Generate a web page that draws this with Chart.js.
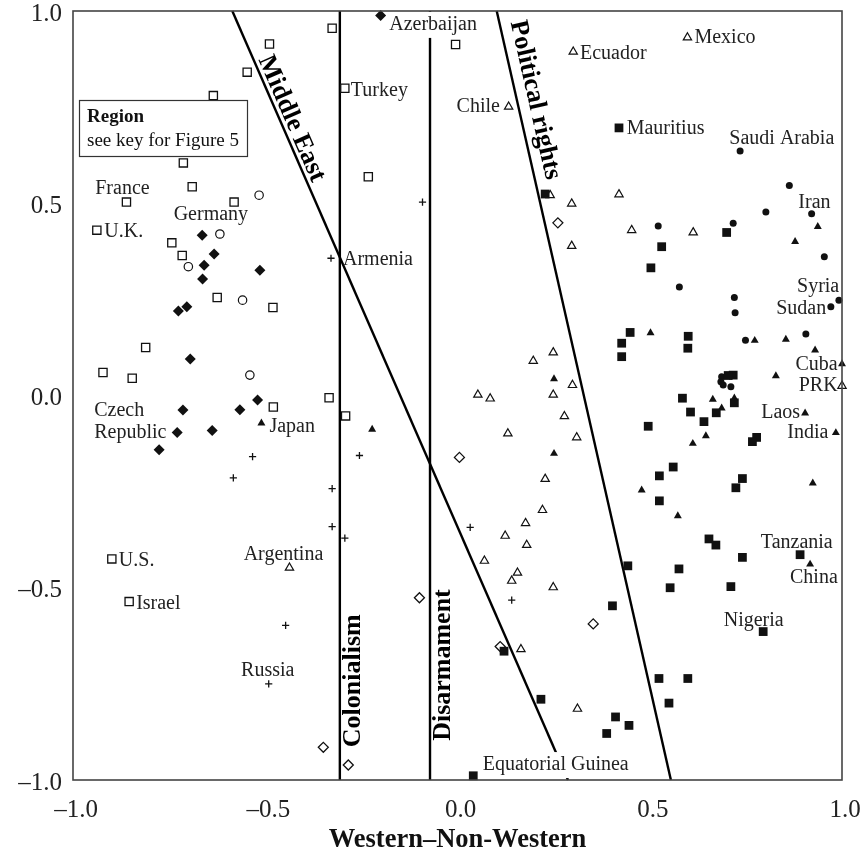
<!DOCTYPE html>
<html><head><meta charset="utf-8">
<script src="https://cdn.jsdelivr.net/npm/chart.js@4.4.1/dist/chart.umd.min.js"></script>
<style>html,body{margin:0;padding:0;background:#fff}#wrap{width:864px;height:864px;position:relative}</style>
</head><body><div id="wrap"><canvas id="c"></canvas></div>
<script>
// ---------- axes ----------
const xTickValues = [-1, -0.5, 0, 0.5, 1];
const xTickLabels = ['–1.0', '–0.5', '0.0', '0.5', '1.0'];
const yTickValues = [-1, -0.5, 0, 0.5, 1];
const yTickLabels = ['–1.0', '–0.5', '0.0', '0.5', '1.0'];
const xAxisTitle = 'Western–Non-Western';

// ---------- points by marker type ----------
const openSquares = [[-0.326,0.955],[-0.489,0.914],[-0.547,0.841],[-0.635,0.780],[-0.713,0.605],[-0.690,0.543],
 [-0.861,0.503],[-0.581,0.503],[-0.938,0.430],[-0.743,0.397],[-0.716,0.364],[-0.625,0.255],[-0.480,0.229],
 [-0.811,0.125],[-0.922,0.060],[-0.846,0.045],[-0.334,-0.006],[-0.479,-0.030],[-0.899,-0.425],[-0.854,-0.536],
 [-0.005,0.913],[-0.293,0.799],[-0.232,0.569],[-0.291,-0.053]];
const openCircles = [[-0.516,0.521],[-0.618,0.420],[-0.700,0.335],[-0.559,0.248],[-0.540,0.053]];
const filledDiamonds = [[-0.200,0.988],[-0.664,0.417],[-0.633,0.368],[-0.659,0.339],[-0.514,0.326],[-0.663,0.303],
 [-0.704,0.231],[-0.726,0.220],[-0.695,0.095],[-0.520,-0.012],[-0.714,-0.038],[-0.566,-0.037],[-0.729,-0.096],
 [-0.638,-0.091],[-0.776,-0.141]];
const openDiamonds = [[-0.349,-0.915],[-0.284,-0.961],[0.005,-0.161],[-0.099,-0.526],[0.353,-0.594],[0.111,-0.653],[0.261,0.449]];
const crosses = [[-0.329,0.357],[-0.091,0.503],[-0.533,-0.159],[-0.583,-0.214],[-0.326,-0.242],[-0.326,-0.341],
 [-0.255,-0.156],[-0.293,-0.371],[0.033,-0.343],[0.141,-0.532],[-0.447,-0.598],[-0.491,-0.750]];
const openTriangles = [[0.301,0.894],[0.133,0.751],[0.598,0.931],[0.241,0.521],[0.297,0.499],[0.297,0.389],
 [0.420,0.523],[0.453,0.430],[0.613,0.424],[1.0,0.025],[0.249,0.112],[0.197,0.090],[0.299,0.027],[0.249,0.002],
 [0.053,0.002],[0.085,-0.008],[0.278,-0.054],[0.131,-0.099],[0.310,-0.109],[0.228,-0.217],[0.221,-0.298],
 [0.177,-0.332],[0.124,-0.365],[0.180,-0.389],[0.070,-0.430],[0.156,-0.461],[0.141,-0.482],[0.249,-0.499],
 [0.165,-0.660],[0.312,-0.815],[-0.437,-0.448]];
const filledTriangles = [[-0.510,-0.072],[-0.222,-0.088],[0.251,0.043],[0.251,-0.151],[0.937,0.439],[0.878,0.400],
 [0.502,0.163],[0.773,0.143],[0.854,0.146],[0.930,0.118],[1.0,0.082],[0.828,0.051],[0.664,-0.010],[0.720,-0.007],
 [0.687,-0.033],[0.904,-0.046],[0.984,-0.097],[0.646,-0.105],[0.612,-0.125],[0.924,-0.228],[0.479,-0.246],
 [0.573,-0.313],[0.917,-0.439]];
const filledCircles = [[0.735,0.636],[0.863,0.546],[0.921,0.473],[0.802,0.477],[0.522,0.441],[0.717,0.448],
 [0.954,0.361],[0.577,0.282],[0.720,0.255],[0.722,0.215],[0.992,0.248],[0.971,0.231],[0.749,0.144],[0.906,0.160],
 [0.687,0.049],[0.685,0.036],[0.691,0.027],[0.711,0.023]];
const filledSquares = [[0.420,0.696],[0.228,0.524],[0.700,0.424],[0.531,0.387],[0.503,0.332],[0.449,0.164],
 [0.600,0.154],[0.427,0.136],[0.427,0.101],[0.599,0.123],[0.717,0.053],[0.704,0.052],[0.585,-0.007],[0.720,-0.019],
 [0.673,-0.045],[0.606,-0.043],[0.641,-0.068],[0.496,-0.080],[0.778,-0.109],[0.767,-0.120],[0.561,-0.186],
 [0.525,-0.209],[0.741,-0.216],[0.724,-0.240],[0.525,-0.274],[0.654,-0.373],[0.672,-0.389],[0.741,-0.421],
 [0.891,-0.414],[0.443,-0.443],[0.576,-0.451],[0.553,-0.500],[0.711,-0.497],[0.403,-0.547],[0.795,-0.614],
 [0.524,-0.736],[0.599,-0.736],[0.550,-0.800],[0.411,-0.836],[0.446,-0.858],[0.388,-0.879],[0.121,-0.665],
 [0.217,-0.790],[0.041,-0.989]];

// ---------- country labels ----------
const countryNames = ['France','Germany','U.K.','Czech\nRepublic','Japan','U.S.','Israel','Argentina','Russia',
 'Azerbaijan','Turkey','Armenia','Chile','Ecuador','Mexico','Mauritius','Saudi Arabia','Iran','Syria','Sudan',
 'Cuba','PRK','Laos','India','Tanzania','China','Nigeria','Equatorial Guinea'];
const countryPoints = [[-0.861,0.503],[-0.618,0.420],[-0.938,0.430],[-0.729,-0.096],[-0.510,-0.072],[-0.899,-0.425],
 [-0.854,-0.536],[-0.437,-0.448],[-0.491,-0.750],[-0.200,0.988],[-0.293,0.799],[-0.329,0.357],[0.133,0.751],
 [0.301,0.894],[0.598,0.931],[0.420,0.696],[0.735,0.636],[0.921,0.473],[0.992,0.248],[0.971,0.231],[1.0,0.082],
 [1.0,0.025],[0.904,-0.046],[0.984,-0.097],[0.891,-0.414],[0.917,-0.439],[0.795,-0.614],[0.041,-0.989]];

// ---------- dividing lines ----------
const dividerNames = ['Colonialism','Disarmament','Middle East','Political rights'];
const dividerStart = [[-0.306,1],[-0.0715,1],[-0.5857,1],[0.102,1]];
const dividerEnd = [[-0.306,-1],[-0.0715,-1],[0.2874,-1],[0.555,-1]];

// ---------- styling / placement (not data) ----------
const labelPlacement = {
 'France':{dx:-4,dy:-13,align:'center'}, 'Germany':{dx:-9,dy:-19,align:'center'},
 'U.K.':{dx:7.5,dy:1.5,align:'left'}, 'Czech\nRepublic':{dx:-83,dy:-22,align:'left'},
 'Japan':{dx:8,dy:4,align:'left'}, 'U.S.':{dx:7,dy:2,align:'left'}, 'Israel':{dx:7,dy:2,align:'left'},
 'Argentina':{dx:-6,dy:-13,align:'center'}, 'Russia':{dx:-1,dy:-13,align:'center'},
 'Azerbaijan':{dx:8.6,dy:9.3,align:'left',bg:true}, 'Turkey':{dx:6,dy:2,align:'left'},
 'Armenia':{dx:12,dy:2,align:'left'}, 'Chile':{dx:-8.7,dy:0,align:'right'},
 'Ecuador':{dx:6.7,dy:1.6,align:'left'}, 'Mexico':{dx:7,dy:0.6,align:'left'},
 'Mauritius':{dx:7.7,dy:0.6,align:'left'}, 'Saudi Arabia':{dx:41.7,dy:-12,align:'center'},
 'Iran':{dx:2.8,dy:-11.2,align:'center'}, 'Syria':{dx:0.3,dy:-13.3,align:'right'},
 'Sudan':{dx:-4.7,dy:2.5,align:'right'}, 'Cuba':{dx:-4.4,dy:1,align:'right'}, 'PRK':{dx:-4.4,dy:0,align:'right'},
 'Laos':{dx:-5,dy:0,align:'right'}, 'India':{dx:-7.4,dy:0,align:'right'},
 'Tanzania':{dx:-3.3,dy:-12,align:'center'}, 'China':{dx:3.8,dy:13.2,align:'center'},
 'Nigeria':{dx:-9.5,dy:-11,align:'center'}, 'Equatorial Guinea':{dx:9.4,dy:-10.7,align:'left',bg:true}
};
const dividerLabelStyle = {
 'Colonialism':{pos:[-0.272,-0.742], vertical:true},
 'Disarmament':{pos:[-0.0377,-0.701], vertical:true},
 'Middle East':{pos:[-0.432,0.720], vertical:false},
 'Political rights':{pos:[0.2016,0.7685], vertical:false}
};
const SERIF = '"Liberation Serif", "Times New Roman", serif';
const INK = '#111';

const toXY = arr => arr.map(p => ({x:p[0], y:p[1]}));
function markerSet(arr, style, radius, filled, bw){
  return {data: toXY(arr), pointStyle: style, pointRadius: radius, pointHoverRadius: radius,
    backgroundColor: filled ? INK : '#fff', borderColor: INK, borderWidth: bw, showLine:false, clip:false, order:0};
}
const lineSets = dividerNames.map((n,i) => ({
  data: toXY([dividerStart[i], dividerEnd[i]]), showLine:true, pointRadius:0, borderColor:'#000',
  borderWidth:2.4, fill:false, clip:false, order:5
}));

const annotate = {
  id:'annotate',
  afterDatasetsDraw(chart){
    const {ctx, scales:{x, y}} = chart;
    ctx.save();
    // country labels
    ctx.font = '20px ' + SERIF;
    ctx.textBaseline = 'middle';
    countryNames.forEach((name,i) => {
      const p = labelPlacement[name];
      const px = x.getPixelForValue(countryPoints[i][0]) + p.dx;
      const py = y.getPixelForValue(countryPoints[i][1]) + p.dy;
      ctx.textAlign = p.align;
      name.split('\n').forEach((line,k) => {
        const ly = py + k*22;
        if (p.bg){
          const w = ctx.measureText(line).width;
          const lx = p.align==='left' ? px : p.align==='right' ? px-w : px-w/2;
          ctx.fillStyle = '#fff';
          ctx.fillRect(lx-3, ly-13, w+6, 26);
        }
        ctx.fillStyle = '#222';
        ctx.fillText(line, px, ly);
      });
    });
    // divider labels
    ctx.font = 'bold 26px ' + SERIF;
    ctx.fillStyle = '#000';
    ctx.textAlign = 'center';
    dividerNames.forEach((n,i) => {
      const s = dividerLabelStyle[n];
      const cx = x.getPixelForValue(s.pos[0]), cy = y.getPixelForValue(s.pos[1]);
      let ang;
      if (s.vertical) ang = -Math.PI/2;
      else {
        const x0 = x.getPixelForValue(dividerStart[i][0]), y0 = y.getPixelForValue(dividerStart[i][1]);
        const x1 = x.getPixelForValue(dividerEnd[i][0]), y1 = y.getPixelForValue(dividerEnd[i][1]);
        ang = Math.atan2(y1-y0, x1-x0);
      }
      ctx.save();
      ctx.translate(cx, cy);
      ctx.rotate(ang);
      ctx.fillText(n, 0, 0);
      ctx.restore();
    });
    // legend note box
    ctx.fillStyle = '#fff';
    ctx.fillRect(79, 100, 168, 56);
    ctx.strokeStyle = '#333';
    ctx.lineWidth = 1.2;
    ctx.strokeRect(79.5, 100.5, 168, 56);
    ctx.fillStyle = '#111';
    ctx.textAlign = 'left';
    ctx.textBaseline = 'alphabetic';
    ctx.font = 'bold 19px ' + SERIF;
    ctx.fillText('Region', 87, 122);
    ctx.font = '19px ' + SERIF;
    ctx.fillText('see key for Figure 5', 87, 146);
    // frame
    const a = chart.chartArea;
    ctx.strokeStyle = '#444';
    ctx.lineWidth = 1.6;
    ctx.strokeRect(a.left, a.top, a.right-a.left, a.bottom-a.top);
    ctx.restore();
  }
};

new Chart(document.getElementById('c'), {
  type:'scatter',
  data:{datasets:[
    ...lineSets,
    markerSet(openSquares,'rect',5.8,false,1.3),
    markerSet(filledSquares,'rect',6.2,true,0),
    markerSet(filledDiamonds,'rectRot',5.5,true,0),
    markerSet(openDiamonds,'rectRot',5,false,1.3),
    markerSet(openCircles,'circle',4.2,false,1.2),
    markerSet(filledCircles,'circle',3.5,true,0),
    markerSet(openTriangles,'triangle',4.8,false,1.2),
    markerSet(filledTriangles,'triangle',4.6,true,0),
    markerSet(crosses,'cross',3.6,false,1.3)
  ]},
  options:{
    responsive:true, maintainAspectRatio:false, animation:false, events:[],
    layout:{padding:{top:11, right:22, left:0, bottom:0}},
    plugins:{legend:{display:false}, tooltip:{enabled:false}},
    scales:{
      x:{type:'linear', min:-1, max:1,
        afterBuildTicks: s => { s.ticks = xTickValues.map(v => ({value:v})); },
        afterFit: s => { s.height = 84; s.paddingLeft = 0; s.paddingRight = 0; },
        grid:{display:false, drawTicks:false}, border:{display:false},
        ticks:{padding:15, labelOffset:3, color:'#222', font:{family:SERIF, size:25},
          callback:(v) => xTickLabels[xTickValues.indexOf(v)]},
        title:{display:true, text:xAxisTitle, color:'#111', font:{family:SERIF, size:26.5, weight:'bold'},
          padding:{top:0, bottom:8}}
      },
      y:{type:'linear', min:-1, max:1,
        afterBuildTicks: s => { s.ticks = yTickValues.map(v => ({value:v})); },
        afterFit: s => { s.width = 73; s.paddingTop = 0; s.paddingBottom = 0; },
        grid:{display:false, drawTicks:false}, border:{display:false},
        ticks:{padding:11, labelOffset:3, color:'#222', font:{family:SERIF, size:25},
          callback:(v) => yTickLabels[yTickValues.indexOf(v)]}
      }
    }
  },
  plugins:[annotate]
});
</script></body></html>
